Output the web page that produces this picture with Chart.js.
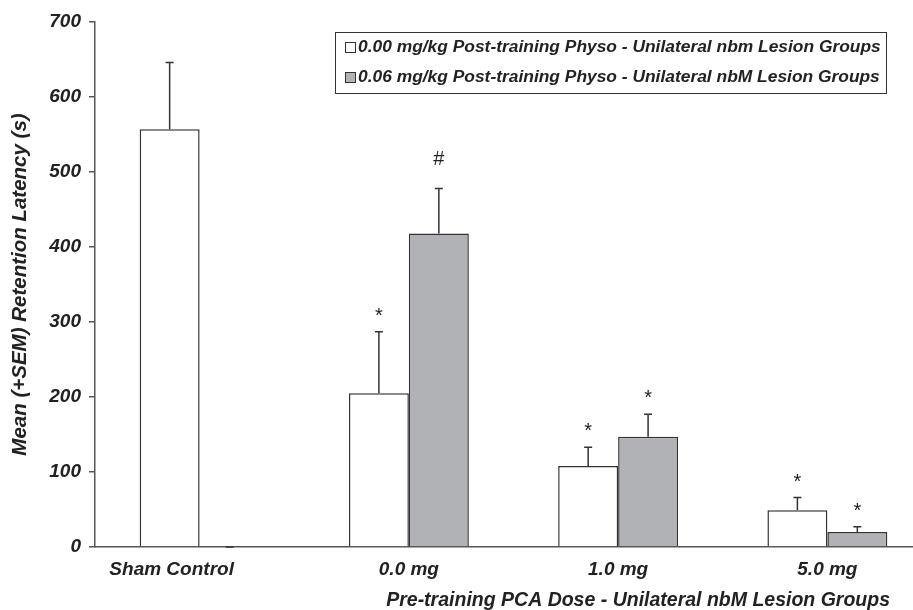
<!DOCTYPE html>
<html>
<head>
<meta charset="utf-8">
<script src="https://cdn.jsdelivr.net/npm/chart.js@4"></script>
<style>
  html, body { margin: 0; padding: 0; background: #fff; overflow: hidden; }
  #wrap { width: 932px; height: 610px; }
</style>
</head>
<body>
<div id="wrap"><canvas id="latencyChart"></canvas></div>
<script>
// Chart Data
const groups = ["Sham Control", "0.0 mg", "1.0 mg", "5.0 mg"];
const seriesNames = [
  "0.00 mg/kg Post-training Physo - Unilateral nbm Lesion Groups",
  "0.06 mg/kg Post-training Physo - Unilateral nbM Lesion Groups",
];
const salineMeans = [557, 205, 108, 49];
const salineSem = [89, 82, 25, 17];
const physoMeans = [0, 418, 147, 20];
const physoSem = [0, 60, 30, 7];
const salineMarks = ["", "*", "*", "*"];
const physoMarks = ["", "#", "*", "*"];
const yMin = 0;
const yMax = 700;
const yStep = 100;
const yTitle = "Mean (+SEM) Retention Latency (s)";
const xTitle = "Pre-training PCA Dose - Unilateral nbM Lesion Groups";

const FONT = '"Liberation Sans", Arial, sans-serif';
const INK = "#222";
const LINE = "#333";
const fills = ["#ffffff", "#b1b2b6"];

// how far above the error cap each marker's baseline sits
const markLift = { "*": 10, "#": 24 };
// the first category label sits left of its group in the original
const labelShift = [-28, 0, 0, 0];

// error bars + significance marks
const errorBars = {
  id: "errorBars",
  afterDatasetsDraw(chart) {
    const ctx = chart.ctx;
    const y = chart.scales.y;
    ctx.save();
    chart.data.datasets.forEach((ds, i) => {
      const meta = chart.getDatasetMeta(i);
      meta.data.forEach((bar, j) => {
        const base = y.getPixelForValue(ds.data[j]);
        const top = y.getPixelForValue(ds.data[j] + ds.sem[j]);
        ctx.strokeStyle = LINE;
        ctx.lineWidth = 1.5;
        ctx.beginPath();
        ctx.moveTo(bar.x, base);
        ctx.lineTo(bar.x, top);
        ctx.moveTo(bar.x - 4, top);
        ctx.lineTo(bar.x + 4, top);
        ctx.stroke();

        const mark = ds.marks[j];
        if (mark) {
          ctx.fillStyle = INK;
          ctx.font = "20px " + FONT;
          ctx.textAlign = "center";
          ctx.textBaseline = "alphabetic";
          ctx.fillText(mark, bar.x, top - markLift[mark]);
        }
      });
    });
    ctx.restore();
  },
};

// boxed legend, category labels, x axis title
const extras = {
  id: "extras",
  afterDraw(chart) {
    const ctx = chart.ctx;
    const x = chart.scales.x;
    ctx.save();

    // legend box
    ctx.strokeStyle = LINE;
    ctx.lineWidth = 1;
    ctx.strokeRect(335.5, 32.5, 551, 61);
    ctx.font = "italic bold 17.4px " + FONT;
    ctx.textBaseline = "middle";
    ctx.textAlign = "left";
    seriesNames.forEach((name, i) => {
      const cy = 47 + i * 30;
      ctx.fillStyle = fills[i];
      ctx.fillRect(345, cy - 5, 10, 10);
      ctx.strokeStyle = LINE;
      ctx.strokeRect(345.5, cy - 4.5, 10, 10);
      ctx.fillStyle = INK;
      ctx.fillText(name, 358, cy);
    });

    // category labels
    ctx.font = "italic bold 19px " + FONT;
    ctx.textAlign = "center";
    groups.forEach((g, i) => {
      ctx.fillText(g, x.getPixelForValue(i) + labelShift[i], 570);
    });

    // x title
    ctx.font = "italic bold 19.5px " + FONT;
    ctx.textAlign = "right";
    ctx.fillText(xTitle, 890, 601);
    ctx.restore();
  },
};

const config = {
  type: "bar",
  data: {
    labels: groups,
    datasets: [
      {
        label: seriesNames[0],
        data: salineMeans,
        sem: salineSem,
        marks: salineMarks,
        backgroundColor: fills[0],
        borderColor: LINE,
        borderWidth: 1.5,
      },
      {
        label: seriesNames[1],
        data: physoMeans,
        sem: physoSem,
        marks: physoMarks,
        backgroundColor: fills[1],
        borderColor: LINE,
        borderWidth: 1.5,
      },
    ],
  },
  options: {
    responsive: true,
    maintainAspectRatio: false,
    animation: false,
    devicePixelRatio: 1,
    categoryPercentage: 0.573,
    barPercentage: 1,
    layout: { padding: { top: 22, left: 0, right: 0, bottom: 0 } },
    plugins: {
      legend: { display: false },
      tooltip: { enabled: false },
    },
    scales: {
      x: {
        offset: true,
        grid: { display: false, drawTicks: false },
        border: { display: true, color: "#555", width: 1.5 },
        ticks: { display: false },
        afterFit: (scale) => {
          scale.height = 63;
        },
      },
      y: {
        min: yMin,
        max: yMax,
        grid: {
          display: true,
          drawOnChartArea: false,
          drawTicks: true,
          tickLength: 6,
          color: "#555",
          lineWidth: 1.5,
        },
        border: { display: true, color: "#555", width: 1.5 },
        ticks: {
          stepSize: yStep,
          color: INK,
          padding: 8,
          font: { family: FONT, size: 19, style: "italic", weight: "bold" },
        },
        title: {
          display: true,
          text: yTitle,
          color: INK,
          padding: { top: 8, bottom: 0 },
          font: { family: FONT, size: 20.5, style: "italic", weight: "bold" },
        },
        afterFit: (scale) => {
          scale.width = 95;
        },
      },
    },
  },
  plugins: [errorBars, extras],
};

document.addEventListener("DOMContentLoaded", function () {
  Chart.defaults.font.family = FONT;
  const ctx = document.getElementById("latencyChart");
  if (ctx) {
    new Chart(ctx, config);
  }
});
</script>
</body>
</html>
